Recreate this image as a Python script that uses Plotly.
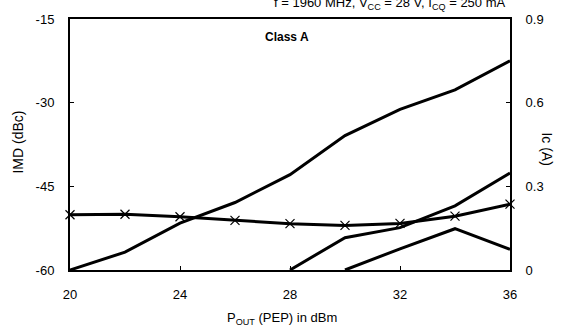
import plotly.graph_objects as go

# Output power (PEP), dBm
pout = [20, 22, 24, 26, 28, 30, 32, 34, 36]

# Intermodulation distortion, dBc (left axis)
imd3_x = [20, 22, 24, 26, 28, 30, 32, 34, 36]
imd3 = [-60, -56.8, -51.6, -47.9, -42.9, -35.9, -31.2, -27.7, -22.5]
imd5_x = [28, 30, 32, 34, 36]
imd5 = [-60, -54.2, -52.4, -48.5, -42.6]
imd7_x = [30, 32, 34, 36]
imd7 = [-60, -56.2, -52.6, -56.3]

# Collector current, A (right axis)
ic = [0.198, 0.200, 0.191, 0.178, 0.166, 0.160, 0.167, 0.193, 0.236]

# Tick labels
x_ticks = [20, 24, 28, 32, 36]
imd_ticks = [-60, -45, -30, -15]
imd_labels = ["-60", "-45", "-30", "-15"]
ic_ticks = [0, 0.3, 0.6, 0.9]
ic_labels = ["0", "0.3", "0.6", "0.9"]

W, H = 570, 329
L, R, T, B = 70, 510, 12, 270
FONT = "Liberation Sans, Arial, sans-serif"


def px(x):
    return (x - L) / (R - L)


def py(y):
    return (B - y) / (B - T)


fig = go.Figure()

line = dict(color="black", width=3)
fig.add_trace(go.Scatter(x=imd3_x, y=imd3, mode="lines", line=line, yaxis="y"))
fig.add_trace(go.Scatter(x=imd5_x, y=imd5, mode="lines", line=line, yaxis="y"))
fig.add_trace(go.Scatter(x=imd7_x, y=imd7, mode="lines", line=line, yaxis="y"))
fig.add_trace(go.Scatter(
    x=pout, y=ic, mode="lines+markers", yaxis="y2", cliponaxis=False,
    line=dict(color="black", width=3),
    marker=dict(symbol="x-thin", size=9, line=dict(color="black", width=1.2)),
))

tickfont = dict(family=FONT, size=13, color="black")

fig.update_layout(
    width=W, height=H,
    margin=dict(l=L, r=W - R, t=T, b=H - B, pad=0),
    paper_bgcolor="white", plot_bgcolor="white",
    showlegend=False,
    font=dict(family=FONT, color="black"),
    xaxis=dict(
        range=[20, 36], tickvals=x_ticks,
        ticks="inside", ticklen=4, tickcolor="black",
        showline=True, linecolor="black", linewidth=2, mirror=True,
        showgrid=False, zeroline=False, tickfont=tickfont,
        ticklabelstandoff=11,
    ),
    yaxis=dict(
        range=[-60, -15], tickvals=imd_ticks, ticktext=imd_labels,
        ticks="inside", ticklen=4, tickcolor="black",
        showline=True, linecolor="black", linewidth=2, mirror=True,
        showgrid=False, zeroline=False, tickfont=tickfont,
        ticklabelstandoff=11,
    ),
    yaxis2=dict(
        range=[0, 0.9], tickvals=ic_ticks, ticktext=ic_labels,
        overlaying="y", side="right",
        ticks="inside", ticklen=4, tickcolor="black",
        showline=True, linecolor="black", linewidth=2,
        showgrid=False, zeroline=False, tickfont=tickfont,
        ticklabelstandoff=11,
    ),
)

ann = [
    dict(text="<b>Class A</b>", x=px(287), y=py(30), size=12),
    dict(text="IMD (dBc)", x=px(18), y=py(139), textangle=-90, size=14),
    dict(text="Ic (A)", x=px(547), y=py(145), textangle=90, size=14),
    dict(text="P<sub>OUT</sub> (PEP) in dBm", x=px(282), y=py(320), size=13),
    dict(text="f = 1960 MHz, V<sub>CC</sub> = 28 V, I<sub>CQ</sub> = 250 mA",
         x=px(508), y=py(7), xanchor="right", yanchor="bottom", size=13),
]
for a in ann:
    a.setdefault("xanchor", "center")
    a.setdefault("yanchor", "middle")
    size = a.pop("size")
    fig.add_annotation(xref="paper", yref="paper", showarrow=False,
                       font=dict(family=FONT, color="black", size=size), **a)

fig.write_html("out.html")
